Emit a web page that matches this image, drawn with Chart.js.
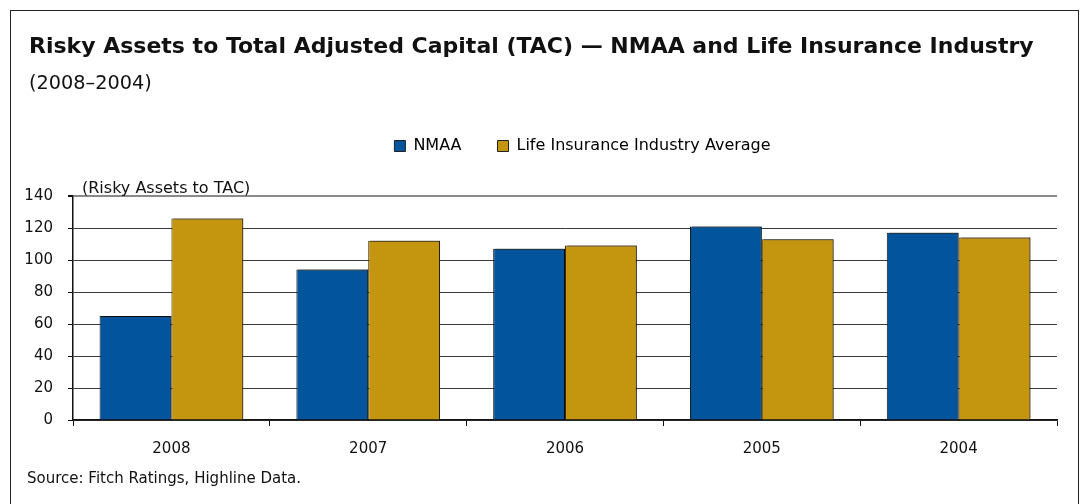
<!DOCTYPE html>
<html>
<head>
<meta charset="utf-8">
<script src="https://cdn.jsdelivr.net/npm/chart.js@4/dist/chart.umd.min.js"></script>
<style>
  html, body { margin: 0; padding: 0; background: #fff; }
  body { width: 1085px; height: 504px; position: relative; overflow: hidden; font-family: "DejaVu Sans", sans-serif; color: #111; }
  #frame { position: absolute; left: 10px; top: 10px; width: 1067px; height: 600px; border: 1.5px solid #222; }
  #title { position: absolute; left: 29px; top: 33px; font-size: 22px; font-weight: bold; white-space: nowrap; }
  #subtitle { position: absolute; left: 29px; top: 71px; font-size: 19.3px; white-space: nowrap; }
  #source { position: absolute; left: 27px; top: 469px; font-size: 15px; white-space: nowrap; }
  #wrap { position: absolute; left: 0; top: 0; width: 1085px; height: 504px; }
</style>
</head>
<body>
<div id="frame"></div>
<div id="wrap"><canvas id="chart"></canvas></div>
<div id="title">Risky Assets to Total Adjusted Capital (TAC) — NMAA and Life Insurance Industry</div>
<div id="subtitle">(2008–2004)</div>
<div id="source">Source: Fitch Ratings, Highline Data.</div>
<script>
// Data
const years = ["2008", "2007", "2006", "2005", "2004"];
const nmaa = [65, 94, 107, 121, 117];
const lifeIndustryAvg = [126, 112, 109, 113, 114];
const yTicks = [0, 20, 40, 60, 80, 100, 120, 140];
const seriesNames = ["NMAA", "Life Insurance Industry Average"];
const unitLabel = "(Risky Assets to TAC)";

const FONT = "'DejaVu Sans', sans-serif";
const PAD_TOP = 102;
const PLOT_TOP = 196;

// legend takes the room down to the plot top; nudge it right like the original
const legendPlace = {
    id: "legendPlace",
    beforeInit(chart) {
        const fit = chart.legend.fit;
        chart.legend.fit = function () {
            fit.bind(chart.legend)();
            this.height = PLOT_TOP - PAD_TOP;
        };
    },
    afterLayout(chart) {
        chart.legend.left += 108;
    }
};

// unit label drawn above the plot, left aligned
const unitText = {
    id: "unitText",
    afterDraw(chart) {
        const { ctx, chartArea } = chart;
        ctx.save();
        ctx.font = "16px " + FONT;
        ctx.fillStyle = "#111";
        ctx.textBaseline = "alphabetic";
        ctx.fillText(unitLabel, chartArea.left + 9, chartArea.top - 3);
        ctx.restore();
    }
};

// light drop shadow on the bars, as in the original
const barShadow = {
    id: "barShadow",
    beforeDatasetsDraw(chart) {
        chart.ctx.save();
        chart.ctx.shadowColor = "rgba(0,0,0,0.45)";
        chart.ctx.shadowOffsetX = 2;
        chart.ctx.shadowOffsetY = -1;
        chart.ctx.shadowBlur = 0;
    },
    afterDatasetsDraw(chart) {
        chart.ctx.restore();
    }
};

new Chart(document.getElementById("chart"), {
    type: "bar",
    data: {
        labels: years,
        datasets: [{
            label: seriesNames[0],
            data: nmaa,
            backgroundColor: "#02549c",
            borderColor: "#151515",
            borderWidth: 1,
            borderSkipped: "bottom",
            categoryPercentage: 0.73,
            barPercentage: 1.0
        }, {
            label: seriesNames[1],
            data: lifeIndustryAvg,
            backgroundColor: "#c4950e",
            borderColor: "#3a3010",
            borderWidth: 1,
            borderSkipped: "bottom",
            categoryPercentage: 0.73,
            barPercentage: 1.0
        }]
    },
    options: {
        responsive: true,
        maintainAspectRatio: false,
        animation: false,
        layout: { padding: { top: PAD_TOP, right: 28, left: 0, bottom: 0 } },
        plugins: {
            legend: {
                display: true,
                position: "top",
                labels: {
                    font: { family: FONT, size: 16 },
                    color: "#111",
                    boxWidth: 11,
                    boxHeight: 11,
                    padding: 36,
                    generateLabels(chart) {
                        return chart.data.datasets.map((ds, i) => ({
                            text: ds.label,
                            fillStyle: ds.backgroundColor,
                            strokeStyle: "#222",
                            lineWidth: 1,
                            datasetIndex: i
                        }));
                    }
                }
            },
            tooltip: { enabled: false },
            title: { display: false }
        },
        scales: {
            x: {
                afterFit(scale) { scale.height = 84; },
                grid: {
                    offset: true,
                    drawOnChartArea: false,
                    drawTicks: true,
                    tickLength: 6,
                    color: "#111"
                },
                border: { color: "#111", width: 1.5 },
                ticks: {
                    font: { family: FONT, size: 15 },
                    color: "#111",
                    padding: 14
                }
            },
            y: {
                min: 0,
                max: 140,
                afterFit(scale) { scale.width = 73; },
                afterBuildTicks(scale) {
                    scale.ticks = yTicks.map(v => ({ value: v }));
                },
                grid: {
                    color: ctx => (ctx.tick && ctx.tick.value === 140) ? "#8a8a8a" : "#3a3a3a",
                    lineWidth: ctx => (ctx.tick && ctx.tick.value === 140) ? 2 : 1,
                    tickLength: 5,
                    tickColor: "#111"
                },
                border: { color: "#111", width: 1.5 },
                ticks: {
                    font: { family: FONT, size: 15 },
                    color: "#111",
                    padding: 15
                }
            }
        }
    },
    plugins: [legendPlace, unitText, barShadow]
});
</script>
</body>
</html>
